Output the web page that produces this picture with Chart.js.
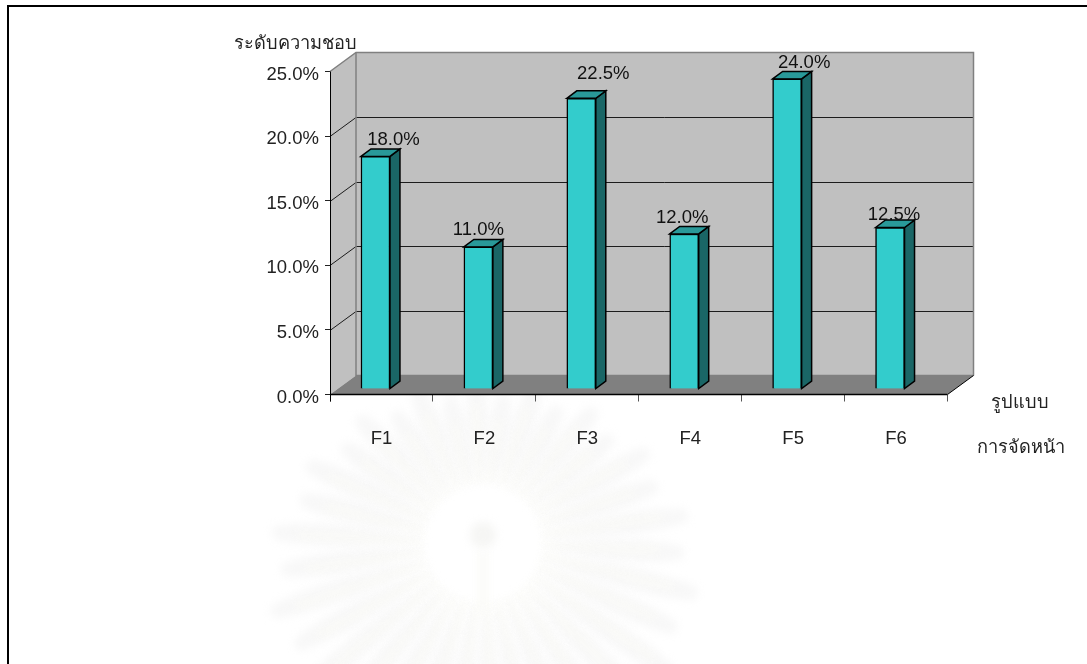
<!DOCTYPE html>
<html><head><meta charset="utf-8">
<script src="https://cdn.jsdelivr.net/npm/chart.js@4"></script>
<style>html,body{margin:0;padding:0;background:#fff}canvas{display:block}
#wrap{position:relative;width:1087px;height:664px;overflow:hidden}
#frameTop{position:absolute;left:7px;top:5px;width:1080px;height:2px;background:#000}
#frameLeft{position:absolute;left:7px;top:5px;width:2px;height:659px;background:#000}
</style></head><body>
<div id="wrap"><canvas id="c" width="1087" height="664"></canvas><div id="frameTop"></div><div id="frameLeft"></div></div>
<script>
const categories = ['F1','F2','F3','F4','F5','F6'];
const preference = [18.0,11.0,22.5,12.0,24.0,12.5];
const yTicks = [0,5,10,15,20,25];
const yAxisTitle = 'ระดับความชอบ';
const xAxisTitleLines = ['รูปแบบ','การจัดหน้า'];

const FONT = '"Liberation Sans", Arial, sans-serif';
const DX = 26, DY = -19;      // depth of the box
const BX = -6, BY = -5.5;     // bar shift on the floor
const SX = 10, SY = -7.5;     // depth of a bar
const labelNudgeX = [18,0,22,-2,17,4];
const labelNudgeY = [-11,-12,-19,-11,-11,-8];

const watermark = {
  id:'watermark',
  beforeDraw(ch){
    const g = ch.ctx, cx = 483, cy = 543;
    g.save();
    g.filter = 'blur(4px)';
    const N = 34;
    for(let i=0;i<N;i++){
      const a = i/N*Math.PI*2 + 0.05;
      const s = Math.sin(a);
      const R = s>0 ? 210 + 30*s : 210 - 50*(-s);
      const rr = R + (i%2 ? 0 : -14);
      g.save(); g.translate(cx,cy); g.rotate(a);
      g.fillStyle = '#f8f8f8';
      g.beginPath(); g.moveTo(58,-2);
      g.quadraticCurveTo(rr*0.7,-17,rr,-7);
      g.quadraticCurveTo(rr+8,0,rr,7);
      g.quadraticCurveTo(rr*0.7,17,58,2);
      g.closePath(); g.fill();
      g.fillStyle = '#fdfdf6';
      g.fillRect(58,-3,rr-80,3);
      g.restore();
    }
    g.fillStyle='#fff'; g.beginPath(); g.arc(cx,cy,55,0,Math.PI*2); g.fill();
    g.fillStyle='#f6f6f4'; g.beginPath(); g.arc(cx,cy-8,13,0,Math.PI*2); g.fill();
    g.fillStyle='#fbfbf8'; g.fillRect(cx-5,cy+8,10,60);
    g.restore();
  }
};

const box3d = {
  id:'box3d',
  beforeDatasetsDraw(ch){
    const g = ch.ctx, {left,right,top,bottom} = ch.chartArea, y = ch.scales.y;
    g.save();
    g.fillStyle='#c0c0c0';
    g.fillRect(left+DX,top+DY,right-left,bottom-top);
    g.beginPath(); g.moveTo(left,top); g.lineTo(left+DX,top+DY); g.lineTo(left+DX,bottom+DY); g.lineTo(left,bottom); g.closePath(); g.fill();
    g.fillStyle='#808080';
    g.beginPath(); g.moveTo(left,bottom); g.lineTo(left+DX,bottom+DY); g.lineTo(right+DX,bottom+DY); g.lineTo(right,bottom); g.closePath(); g.fill();
    g.strokeStyle='#1c1c1c'; g.lineWidth=1;
    yTicks.forEach(v=>{
      if(v===0||v===25) return;
      const py = Math.round(y.getPixelForValue(v))+0.5;
      g.beginPath(); g.moveTo(left,py); g.lineTo(left+DX,py+DY); g.lineTo(right+DX,py+DY); g.stroke();
    });
    g.strokeStyle='#808080'; g.lineWidth=1.5;
    g.beginPath(); g.moveTo(left,top); g.lineTo(left+DX,top+DY); g.lineTo(right+DX,top+DY); g.lineTo(right+DX,bottom+DY); g.stroke();
    g.beginPath(); g.moveTo(left+DX,top+DY); g.lineTo(left+DX,bottom+DY); g.lineTo(right+DX,bottom+DY); g.stroke();
    g.strokeStyle='#000'; g.lineWidth=1;
    g.beginPath(); g.moveTo(right,bottom); g.lineTo(right+DX,bottom+DY); g.stroke();
    g.restore();
  },
  beforeDatasetDraw(ch,args){
    const g = ch.ctx, meta = args.meta;
    g.save();
    g.translate(BX,BY);
    meta.data.forEach(b=>{
      const p = b.getProps(['x','y','base','width'],true);
      const l=p.x-p.width/2, r=p.x+p.width/2, t=p.y, bt=p.base;
      g.lineWidth=1.5; g.strokeStyle='#000'; g.lineJoin='miter';
      g.fillStyle='#1a6666';
      g.beginPath(); g.moveTo(r,t); g.lineTo(r+SX,t+SY); g.lineTo(r+SX,bt+SY); g.lineTo(r,bt); g.closePath(); g.fill(); g.stroke();
      g.fillStyle='#299999';
      g.beginPath(); g.moveTo(l,t); g.lineTo(l+SX,t+SY); g.lineTo(r+SX,t+SY); g.lineTo(r,t); g.closePath(); g.fill(); g.stroke();
    });
  },
  afterDatasetDraw(ch){ ch.ctx.restore(); },
  afterDatasetsDraw(ch){
    const g = ch.ctx, meta = ch.getDatasetMeta(0), {left,right,top,bottom} = ch.chartArea, ys = ch.scales.y;
    g.save();
    g.strokeStyle='#000'; g.lineWidth=1;
    g.beginPath(); g.moveTo(left+0.5,top); g.lineTo(left+0.5,bottom+7); g.stroke();
    g.lineWidth=1.5;
    g.beginPath(); g.moveTo(left,bottom); g.lineTo(right,bottom); g.stroke();
    // y tick labels
    g.fillStyle='#222'; g.font='18.5px '+FONT; g.textAlign='right'; g.textBaseline='middle';
    ys.ticks.forEach((t,i)=>{
      g.fillText(t.value.toFixed(1)+'%', left-11, ys.getPixelForTick(i)+3);
    });
    g.fillStyle='#111'; g.textAlign='center'; g.textBaseline='alphabetic';
    meta.data.forEach((b,i)=>{
      g.fillText(preference[i].toFixed(1)+'%', b.x+BX+labelNudgeX[i], b.y+BY+labelNudgeY[i]);
    });
    g.fillStyle='#222'; g.textAlign='left';
    g.font='18.2px "Noto Sans", '+FONT;
    g.fillText(yAxisTitle,234,48.5);
    g.fillText(xAxisTitleLines[0],991,408);
    g.fillText(xAxisTitleLines[1],977,453);
    g.restore();
  }
};

new Chart(document.getElementById('c'),{
  type:'bar',
  data:{labels:categories,datasets:[{data:preference,backgroundColor:'#33cccc',borderColor:'#000',borderWidth:1.5,barThickness:29}]},
  plugins:[watermark,box3d],
  options:{
    responsive:false,animation:false,
    layout:{padding:{left:0,right:139.5,top:71.5,bottom:0}},
    plugins:{legend:{display:false},tooltip:{enabled:false},title:{display:false}},
    scales:{
      x:{position:'bottom',afterFit(s){s.height=664-394.5;},
        grid:{display:true,drawOnChartArea:false,drawTicks:true,tickLength:7,color:'#555',offset:true},
        border:{display:false},
        ticks:{color:'#222',font:{size:18.5,family:FONT},padding:26,maxRotation:0}},
      y:{min:0,max:25,afterFit(s){s.width=330;},
        afterBuildTicks(s){s.ticks=yTicks.map(v=>({value:v}));},
        grid:{drawOnChartArea:false,drawTicks:true,tickLength:5,color:'#222'},
        border:{display:false},
        ticks:{display:false}}
    }
  }
});
</script></body></html>
